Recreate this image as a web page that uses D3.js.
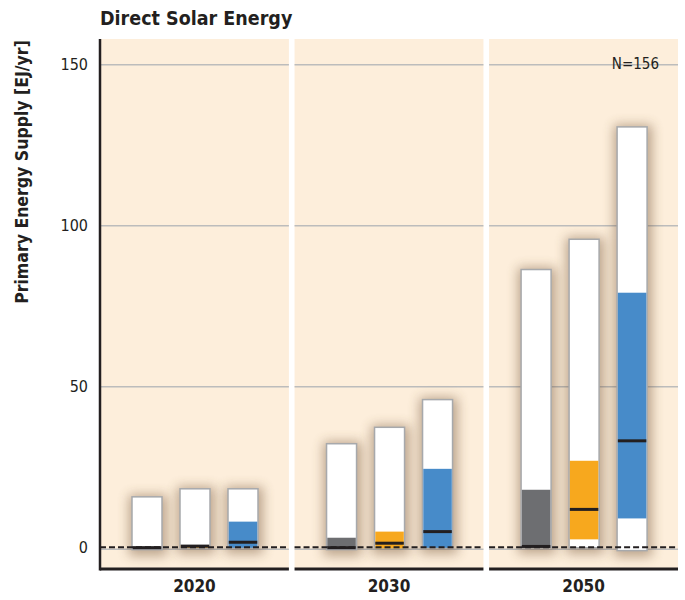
<!DOCTYPE html>
<html>
<meta charset="utf-8">
<script src="https://d3js.org/d3.v7.min.js"></script>
<style>
  body { margin: 0; background: #fff; }
  text { font-family: "Liberation Sans Narrow", "DejaVu Sans Condensed", "Open Sans", sans-serif; fill: #231f20; }
</style>
<body>
<div id="chart"></div>
<script>

// panels and scenario categories
var years = ["2020", "2030", "2050"];
var categories = ["baseline", "cat1", "cat2"];

// values in EJ/yr, ordered 2020 (baseline, cat1, cat2), 2030 (...), 2050 (...)
var minVals    = [-0.6, 0.0, 0.0,   -0.6, -0.2, 0.0,   0.0, 0.0, -0.9];
var q1Vals     = [-0.4, 0.0, 0.0,    0.0, -0.2, 0.0,   0.2, 2.6,  9.1];
var medianVals = [ 0.0, 0.5, 1.7,    0.0,  1.4, 5.0,   0.4, 11.9, 33.2];
var q3Vals     = [ 0.4, 0.8, 8.1,    3.1,  5.0, 24.5,  18.0, 27.0, 79.2];
var maxVals    = [15.8, 18.3, 18.3,  32.3, 37.4, 46.0,  86.4, 95.8, 130.7];

var yTicks = [0, 50, 100, 150];
var nLabel = "N=156";

var colors = {baseline: "#6d6e71", cat1: "#f7a81e", cat2: "#478bc9"};

var rows = [];
years.forEach(function(yr, i) {
  categories.forEach(function(c, j) {
    var k = i * 3 + j;
    rows.push({year: yr, cat: c, min: minVals[k], q1: q1Vals[k],
               med: medianVals[k], q3: q3Vals[k], max: maxVals[k]});
  });
});

var W = 685, H = 600;
var plotLeft = 100, plotRight = 678, plotTop = 39, plotBottom = 568;

var svg = d3.select("#chart").append("svg")
  .attr("width", W).attr("height", H);

var defs = svg.append("defs");
defs.append("filter").attr("id", "shadow")
  .attr("x", "-100%").attr("y", "-50%").attr("width", "300%").attr("height", "200%")
  .append("feGaussianBlur").attr("stdDeviation", 6);

var x = d3.scaleBand().domain(years).range([plotLeft, plotRight]).paddingInner(0.029);
var xi = d3.scaleBand().domain(categories).range([14, 176]).padding(0.375);
var y = d3.scaleLinear().domain([-6.3, 158]).range([plotBottom, plotTop]);

// panel backgrounds
svg.selectAll("rect.panel").data(years).enter().append("rect")
  .attr("class", "panel")
  .attr("x", function(d) { return x(d); })
  .attr("y", plotTop)
  .attr("width", x.bandwidth())
  .attr("height", plotBottom - plotTop)
  .attr("fill", "#fdeedb");

// gridlines
years.forEach(function(yr) {
  svg.append("g").selectAll("line").data(yTicks).enter().append("line")
    .attr("x1", x(yr)).attr("x2", x(yr) + x.bandwidth())
    .attr("y1", function(d) { return y(d) + (d === 0 ? 1.5 : 0); })
    .attr("y2", function(d) { return y(d) + (d === 0 ? 1.5 : 0); })
    .attr("stroke", "#bcbcbc").attr("stroke-width", 1.5);
});

var panels = svg.selectAll("g.yr").data(years).enter().append("g")
  .attr("class", "yr")
  .attr("transform", function(d) { return "translate(" + x(d) + ",0)"; });

// shadows behind the bars
panels.each(function(yr) {
  d3.select(this).selectAll("rect.sh")
    .data(rows.filter(function(r) { return r.year === yr; }))
    .enter().append("rect")
    .attr("x", function(d) { return xi(d.cat) - 3; })
    .attr("y", function(d) { return y(d.max) - 2; })
    .attr("width", xi.bandwidth() + 8)
    .attr("height", function(d) { return y(d.min) - y(d.max) + 8; })
    .attr("fill", "#6b4a2a")
    .attr("opacity", 0.45)
    .attr("filter", "url(#shadow)");
});

// zero dashed line
years.forEach(function(yr) {
  svg.append("line")
    .attr("x1", x(yr)).attr("x2", x(yr) + x.bandwidth())
    .attr("y1", y(0) - 0.5).attr("y2", y(0) - 0.5)
    .attr("stroke", "#231f20").attr("stroke-width", 2)
    .attr("stroke-dasharray", "6,3");
});

// bars: full range, interquartile box, median
panels.each(function(yr) {
  var g = d3.select(this);
  var data = rows.filter(function(r) { return r.year === yr; });

  g.selectAll("rect.range").data(data).enter().append("rect")
    .attr("x", function(d) { return xi(d.cat); })
    .attr("y", function(d) { return y(d.max); })
    .attr("width", xi.bandwidth())
    .attr("height", function(d) { return y(d.min) - y(d.max); })
    .attr("fill", "#fff")
    .attr("stroke", "#a7a9ac").attr("stroke-width", 1.5);

  g.selectAll("rect.iqr").data(data).enter().append("rect")
    .attr("x", function(d) { return xi(d.cat) + 0.75; })
    .attr("y", function(d) { return y(d.q3); })
    .attr("width", xi.bandwidth() - 1.5)
    .attr("height", function(d) { return Math.max(0, y(d.q1) - y(d.q3)); })
    .attr("fill", function(d) { return colors[d.cat]; });

  g.selectAll("line.med").data(data).enter().append("line")
    .attr("x1", function(d) { return xi(d.cat) + 0.75; })
    .attr("x2", function(d) { return xi(d.cat) + xi.bandwidth() - 0.75; })
    .attr("y1", function(d) { return y(d.med); })
    .attr("y2", function(d) { return y(d.med); })
    .attr("stroke", "#231f20").attr("stroke-width", 3);
});

// bottom axis line, broken at the panel gaps
years.forEach(function(yr) {
  svg.append("line")
    .attr("x1", x(yr)).attr("x2", x(yr) + x.bandwidth())
    .attr("y1", plotBottom + 1).attr("y2", plotBottom + 1)
    .attr("stroke", "#231f20").attr("stroke-width", 3);
});

// left axis
var yAxis = d3.axisLeft(y).tickValues(yTicks).tickSize(0).tickPadding(12);
var ya = svg.append("g").attr("transform", "translate(" + plotLeft + ",0)").call(yAxis);
ya.select(".domain").remove();
ya.attr("font-family", null).attr("font-size", null);
ya.selectAll("text").attr("font-size", 16).attr("fill", "#231f20");
svg.append("line")
  .attr("x1", plotLeft).attr("x2", plotLeft).attr("y1", plotTop).attr("y2", plotBottom + 2.5)
  .attr("stroke", "#231f20").attr("stroke-width", 2.5);

// x labels
svg.selectAll("text.xl").data(years).enter().append("text")
  .attr("x", function(d) { return x(d) + x.bandwidth() / 2; })
  .attr("y", 592)
  .attr("text-anchor", "middle")
  .attr("font-size", 17).attr("font-weight", "bold")
  .text(function(d) { return d; });

// titles
svg.append("text")
  .attr("x", 100).attr("y", 25)
  .attr("font-size", 19.5).attr("font-weight", "bold")
  .text("Direct Solar Energy");

svg.append("text")
  .attr("transform", "translate(28,172) rotate(-90)")
  .attr("text-anchor", "middle")
  .attr("font-size", 17.5).attr("font-weight", "bold")
  .text("Primary Energy Supply [EJ/yr]");

svg.append("text")
  .attr("x", 659).attr("y", 69)
  .attr("text-anchor", "end")
  .attr("font-size", 15)
  .text(nLabel);

</script>
</body>
</html>
